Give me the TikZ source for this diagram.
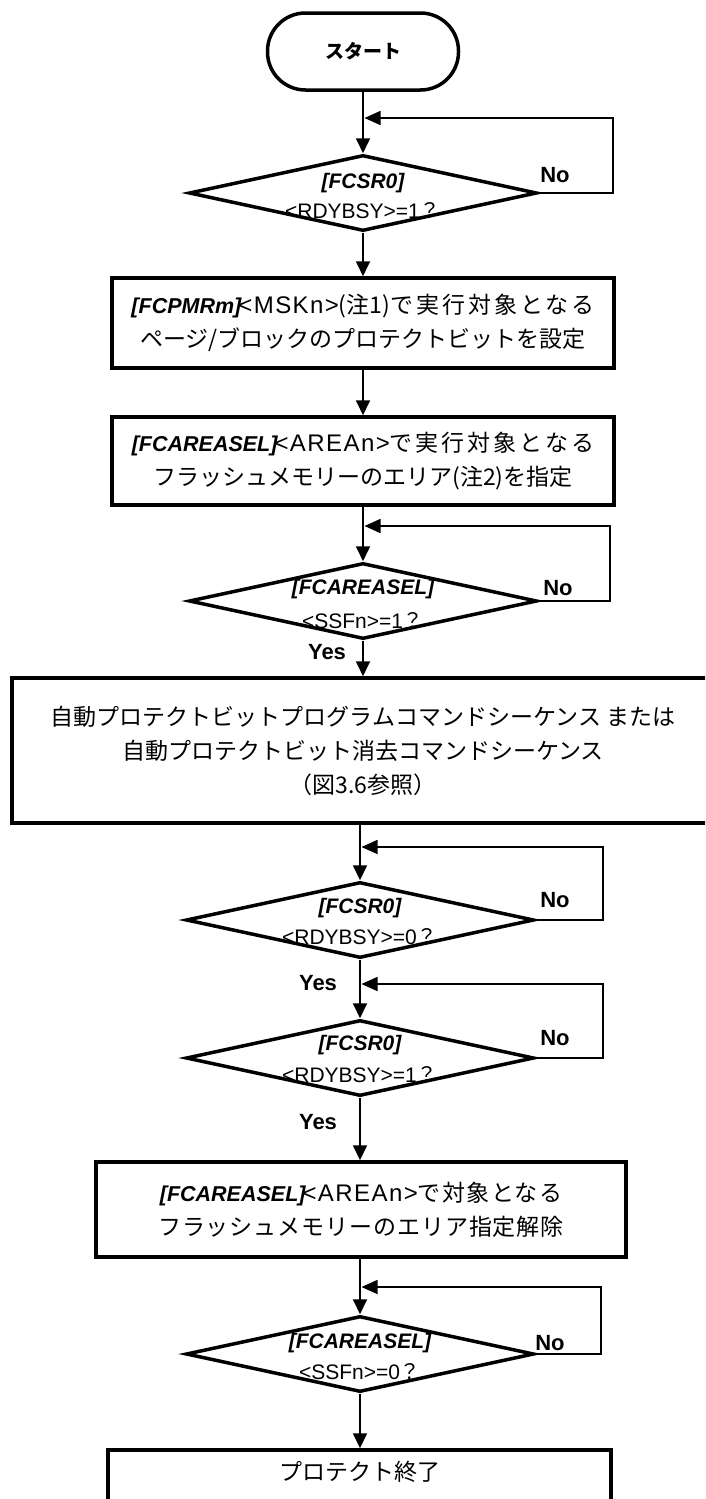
\documentclass[tikz,border=0pt]{standalone}
\usepackage{fontspec}
\setmainfont{Liberation Sans}
\newfontfamily\jp{Noto Sans CJK JP}
\usetikzlibrary{shapes.geometric,arrows.meta}
\newcommand\bi[1]{{\rmfamily\bfseries\itshape\fontsize{21.5}{34}\selectfont #1}}
\newcommand\lt[1]{{\rmfamily\fontsize{24}{34}\selectfont\addfontfeature{LetterSpace=6}#1}}
\newcommand\wide[1]{{\addfontfeature{LetterSpace=13}#1}}
\begin{document}
\begin{tikzpicture}[x=1pt,y=-1pt,
  box/.style={draw,line width=3.5pt,inner sep=0pt,align=center,font=\jp\fontsize{23}{34}\selectfont},
  term/.style={draw,line width=3.5pt,rounded corners=38pt,minimum width=191pt,minimum height=77pt,inner sep=0pt,font=\jp\bfseries\fontsize{19}{22}\selectfont},
  dia/.style={draw,diamond,line width=3.5pt,inner sep=0pt,minimum width=348pt,minimum height=76pt},
  conn/.style={line width=1.8pt,-{Triangle[length=15pt,width=14pt]}},
  loopl/.style={line width=1.6pt,-{Triangle[length=16pt,width=14pt]},shorten >=0.5pt},
  lab/.style={inner sep=0pt,font=\bfseries\fontsize{22}{26}\selectfont},
  dtop/.style={inner sep=0pt,font=\bfseries\itshape\fontsize{21}{24}\selectfont},
  dbot/.style={inner sep=0pt,font=\fontsize{21}{24}\selectfont}
]
\useasboundingbox (0,0) rectangle (705,1499);
\clip (0,0) rectangle (705,1499);
\fill[white] (0,0) rectangle (705,1499);

% nodes
\node[term] (start) at (363,51.5) {スタート};

\node[dia] (d1) at (363,193) {};
\node[dtop] (d1a) at (363,183) {[FCSR0]};
\node[dbot] (d1b) at (363,211) {<RDYBSY>=1{\jp ？}};

\node[box,minimum width=502pt,minimum height=90pt] (b1) at (363,323)
  {\bi{[FCPMRm]}\kern-3pt\lt{<MSKn>}(注1)\wide{で実行対象となる}\\ページ/ブロックのプロテクトビットを設定};

\node[box,minimum width=502pt,minimum height=88pt] (b2) at (363,461)
  {\bi{[FCAREASEL]}\kern-3pt\lt{<AREAn>}\wide{で実行対象となる}\\フラッシュメモリーのエリア(注2)を指定};

\node[dia] (d2) at (363,601) {};
\node[dtop] (d2a) at (363,589) {[FCAREASEL]};
\node[dbot] (d2b) at (363,621) {<SSFn>=1{\jp ？}};

\node[box,minimum width=702pt,minimum height=145pt] (big) at (363,750.5)
  {自動プロテクトビットプログラムコマンドシーケンス または\\自動プロテクトビット消去コマンドシーケンス\\（図3.6参照）};

\node[dia] (d3) at (360,920) {};
\node[dtop] (d3a) at (360,908) {[FCSR0]};
\node[dbot] (d3b) at (360,937) {<RDYBSY>=0{\jp ？}};

\node[dia] (d4) at (360,1058) {};
\node[dtop] (d4a) at (360,1045) {[FCSR0]};
\node[dbot] (d4b) at (360,1075) {<RDYBSY>=1{\jp ？}};

\node[box,minimum width=530pt,minimum height=95pt] (b3) at (361,1209.5)
  {\bi{[FCAREASEL]}\kern-3pt\lt{<AREAn>}{\addfontfeature{LetterSpace=6}で対象となる}\\{\addfontfeature{LetterSpace=4}フラッシュメモリーのエリア指定解除}};

\node[dia] (d5) at (360,1354) {};
\node[dtop] (d5a) at (360,1343) {[FCAREASEL]};
\node[dbot] (d5b) at (360,1372) {<SSFn>=0{\jp ？}};

\node[box,minimum width=503pt,minimum height=80pt] (fin) at (359.5,1490) {};
\node[inner sep=0pt,font=\jp\fontsize{23}{28}\selectfont] (fint) at (359.5,1472) {プロテクト終了};

% labels
\node[lab] (no1) at (555,175) {No};
\node[lab] (no2) at (558,588) {No};
\node[lab] (no3) at (555,900) {No};
\node[lab] (no4) at (555,1038) {No};
\node[lab] (no5) at (550,1343) {No};
\node[lab] (y2) at (327,652) {Yes};
\node[lab] (y3) at (318,983) {Yes};
\node[lab] (y4) at (318,1122) {Yes};

% main flow
\draw[conn] (start.south) -- (d1.north);
\draw[conn] (d1.south) -- (b1.north);
\draw[conn] (b1.south) -- (b2.north);
\draw[conn] (b2.south) -- (d2.north);
\draw[conn] (d2.south) -- (d2.south |- big.north);
\draw[conn] (d3.north |- big.south) -- (d3.north);
\draw[conn] (d3.south) -- (d4.north);
\draw[conn] (d4.south) -- (d4.south |- b3.north);
\draw[conn] (b3.south -| d5.north) -- (d5.north);
\draw[conn] (d5.south) -- (d5.south |- fin.north);

% loops
\coordinate (k1) at (613,118);
\coordinate (k2) at (610,526);
\coordinate (k3) at (603,847);
\coordinate (k4) at (603,984);
\coordinate (k5) at (601,1287);
\draw[loopl] (d1.east) -| (k1) -- ([xshift=1pt]k1 -| d1.north);
\draw[loopl] (d2.east) -| (k2) -- ([xshift=1pt]k2 -| d2.north);
\draw[loopl] (d3.east) -| (k3) -- ([xshift=1pt]k3 -| d3.north);
\draw[loopl] (d4.east) -| (k4) -- ([xshift=1pt]k4 -| d4.north);
\draw[loopl] (d5.east) -| (k5) -- ([xshift=1pt]k5 -| d5.north);
\end{tikzpicture}
\end{document}
